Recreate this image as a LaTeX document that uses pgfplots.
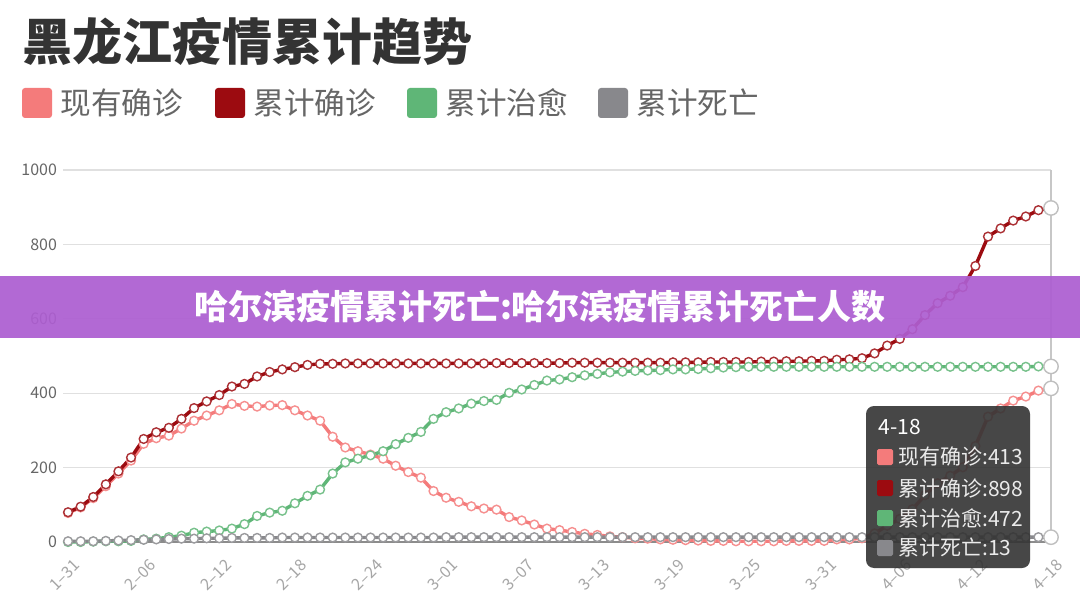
\documentclass[border=0pt]{standalone}
\usepackage{fontspec}
\setmainfont{Noto Sans CJK SC}
\usepackage{pgfplots}
\usepackage{pgfplotstable}
\pgfplotsset{compat=1.18}

\definecolor{cur}{HTML}{F47B7B}
\definecolor{cum}{HTML}{9C0B10}
\definecolor{cure}{HTML}{5FB677}
\definecolor{dead}{HTML}{88888C}
\definecolor{banner}{HTML}{AD5ED1}

% i = day index from 1-31; A = current, C = cumulative, R = cured, D = deaths
\pgfplotstableread{
i A C R D
0 78 80 0 2
1 93 95 0 2
2 118 121 1 2
3 150 155 2 3
4 184 190 2 4
5 219 227 3 5
6 264 277 7 6
7 279 295 9 7
8 286 307 13 8
9 305 331 17 9
10 326 360 25 9
11 340 378 28 10
12 354 395 31 10
13 371 418 36 11
14 366 425 48 11
15 364 445 70 11
16 367 457 79 11
17 368 464 84 12
18 354 470 104 12
19 340 476 124 12
20 326 479 141 12
21 283 479 184 12
22 254 480 214 12
23 244 480 224 12
24 235 480 233 12
25 224 480 244 12
26 205 480 263 12
27 188 480 280 12
28 173 480 296 12
29 137 480 331 12
30 119 480 349 13
31 108 480 359 13
32 96 480 372 13
33 90 480 379 13
34 87 481 382 13
35 67 481 401 13
36 58 481 410 13
37 47 481 422 13
38 36 481 434 13
39 32 481 437 13
40 27 482 443 13
41 22 482 448 13
42 19 482 452 13
43 15 482 456 13
44 13 482 458 13
45 10 482 460 13
46 9 482 461 13
47 7 482 462 13
48 6 483 464 13
49 5 483 464 13
50 4 483 465 13
51 3 484 467 13
52 3 484 469 13
53 2 484 470 13
54 2 484 471 13
55 2 485 471 13
56 2 485 471 13
57 3 486 471 13
58 3 486 471 13
59 3 487 471 13
60 3 487 471 13
61 7 490 471 13
62 7 491 471 13
63 10 494 471 13
64 23 507 471 13
65 44 528 471 13
66 62 546 471 13
67 88 572 471 13
68 126 610 471 13
69 158 642 471 13
70 178 662 471 13
71 201 685 471 13
72 258 742 471 13
73 337 821 471 13
74 359 843 471 13
75 380 864 471 13
76 391 875 471 13
77 407 892 472 13
78 413 898 472 13
}\trend

\begin{document}
\begin{tikzpicture}
\begin{scope}[x=0.5pt,y=-0.5pt]
\useasboundingbox (0,0) rectangle (1080,614);
\fill[white] (0,0) rectangle (1080,614);

% title
\node[anchor=west, inner sep=0, text=black!80,
      font=\fontsize{25}{27}\selectfont\bfseries] at (22,42) {黑龙江疫情累计趋势};

% legend
\foreach \lx/\col/\txt in {22/cur/现有确诊, 215/cum/累计确诊, 407/cure/累计治愈, 598/dead/累计死亡}{
  \fill[\col, rounded corners=1.5pt] (\lx,88) rectangle ++(30,30);
  \node[anchor=west, inner sep=0, text=black!60, font=\fontsize{15.3}{16}\selectfont]
       at (\lx+38,103) {\txt};
}
\end{scope}

\begin{axis}[
    at={(31.5pt,-271pt)}, anchor=south west,
    scale only axis, width=494pt, height=186pt,
    xmin=-0.4, xmax=78, ymin=0, ymax=1000,
    clip=false,
    axis x line*=bottom, axis y line*=left,
    y axis line style={draw=none},
    x axis line style={draw=black!45, line width=0.6pt},
    major tick length=0,
    ymajorgrids, grid style={draw=black!12, line width=0.6pt},
    ytick={0,200,...,1000},
    xtick={0,6,...,78},
    xticklabels={1--31,2--06,2--12,2--18,2--24,3--01,3--07,3--13,3--19,3--25,3--31,4--06,4--12,4--18},
    /pgf/number format/assume math mode=true,
    /pgf/number format/1000 sep={},
    yticklabel style={text=black!60, font=\fontsize{8}{9}\selectfont, xshift=0.5pt},
    xticklabel style={text=black!35, font=\fontsize{8}{9}\selectfont, rotate=45,
                      anchor=north east, yshift=-4pt, xshift=-0.5pt},
    every axis plot/.append style={line width=1.7pt, mark=*, mark size=2.2pt},
]
\draw[black!22, line width=0.6pt] (axis cs:78,0) -- (axis cs:78,1000);

\addplot[cur, mark options={fill=white, draw=cur!85, line width=0.7pt}] table[x=i, y=A] {\trend};
\addplot[cum, mark options={fill=white, draw=cum!85, line width=0.7pt}] table[x=i, y=C] {\trend};
\addplot[cure, mark options={fill=white, draw=cure!85, line width=0.7pt}] table[x=i, y=R] {\trend};
\addplot[dead, mark options={fill=white, draw=dead!85, line width=0.7pt}] table[x=i, y=D] {\trend};

% emphasised points at 4-18
\foreach \c in {A,C,R,D}{
  \addplot[only marks, mark=*, mark size=3.6pt, mark options={fill=white, draw=black!25, line width=0.7pt},
           skip coords between index={0}{78}] table[x=i, y=\c] {\trend};
}
\end{axis}

\begin{scope}[x=0.5pt,y=-0.5pt]
% tooltip
\fill[black!80, opacity=0.9, rounded corners=4pt] (866,406) rectangle (1030,568);
\node[anchor=west, inner sep=0, text=white, font=\fontsize{10.5}{12}\selectfont] at (878,427) {4-18};
\foreach \ty/\col/\txt in {457/cur/现有确诊:413, 488/cum/累计确诊:898, 518/cure/累计治愈:472, 548/dead/累计死亡:13}{
  \fill[\col, rounded corners=0.8pt] (877,\ty-8) rectangle ++(16,16);
  \node[anchor=west, inner sep=0, text=black!8, font=\fontsize{10.5}{12}\selectfont] at (898,\ty) {\txt};
}

% banner
\fill[banner, opacity=0.93] (0,276) rectangle (1080,338);
\node[text=white, inner sep=0, font=\fontsize{17}{18}\selectfont\bfseries] at (540,307)
     {哈尔滨疫情累计死亡:哈尔滨疫情累计死亡人数};
\end{scope}
\end{tikzpicture}
\end{document}
